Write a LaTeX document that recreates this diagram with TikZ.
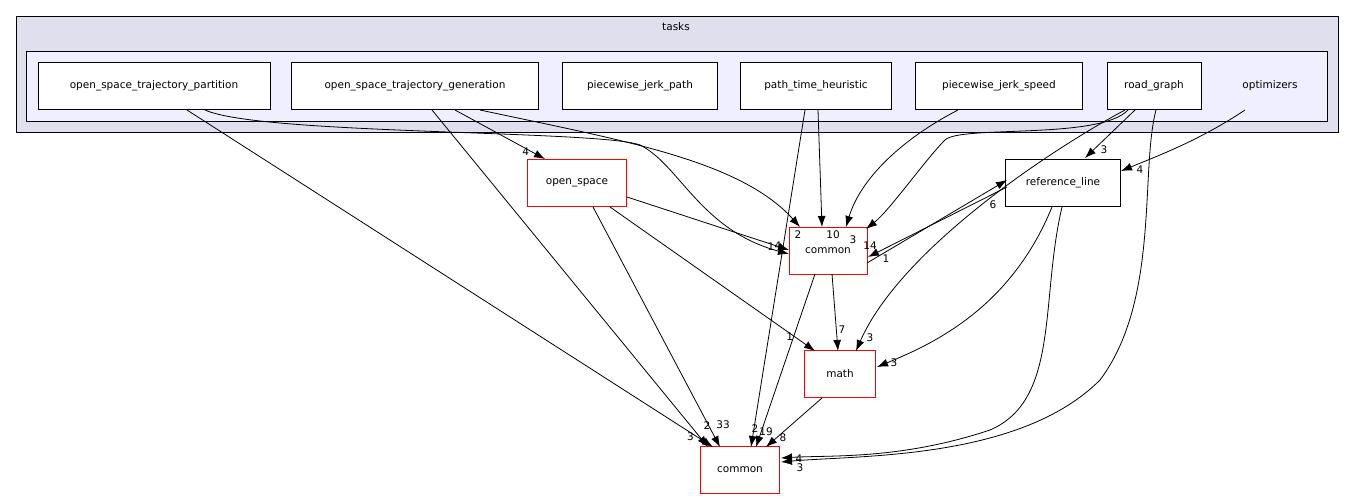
\documentclass[tikz,border=0pt]{standalone}
\usepackage{fontspec}
\setmainfont{DejaVu Sans}
\usetikzlibrary{arrows.meta,positioning}
\definecolor{cl1}{HTML}{DFDFEE}
\definecolor{cl2}{HTML}{EFEFFF}
\begin{document}
\begin{tikzpicture}[x=1pt,y=-1pt,font=\fontsize{10.5}{12}\selectfont,
 box/.style={draw=black,fill=white,minimum height=47pt,inner sep=0pt},
 rbox/.style={draw=red,fill=white,minimum height=47pt,inner sep=0pt},
 e/.style={-{Latex[length=11pt,width=8pt]},line width=0.8pt},
 lb/.style={inner sep=0pt}]
\useasboundingbox (0,0) rectangle (1355,500);
\draw[fill=cl1] (16,16) rectangle (1338,132);
\node[lb] (tasks) at (676,27) {tasks};
\draw[fill=cl2] (26,51) rectangle (1327,121);
\node[lb] (opt) at (1270,86) {optimizers};
\node[box,minimum width=232pt] (part) at (154,86) {open\_space\_trajectory\_partition};
\node[box,minimum width=247pt] (gen) at (415,86) {open\_space\_trajectory\_generation};
\node[box,minimum width=155pt] (pjp) at (640,86) {piecewise\_jerk\_path};
\node[box,minimum width=151pt] (pth) at (816,86) {path\_time\_heuristic};
\node[box,minimum width=167pt] (pjs) at (999,86) {piecewise\_jerk\_speed};
\node[box,minimum width=94pt] (rg) at (1154,86) {road\_graph};
\node[rbox,minimum width=99pt] (os) at (577,183) {open\_space};
\node[box,minimum width=115pt] (rl) at (1063,183) {reference\_line};
\node[rbox,minimum width=78pt] (cm) at (828,251) {common};
\node[rbox,minimum width=71pt] (ma) at (840,374) {math};
\node[rbox,minimum width=79pt] (cb) at (740,470) {common};
% edges
\draw[e] (187,110) -- (713,447) node[lb,pos=0.97,left=3pt] {3};
\draw[e] (205,110) .. controls (260,135) and (600,130) .. (640,145) .. controls (680,165) and (700,230) .. (789,254);
\node[lb] at (771,247) {1};
\draw[e] (432,110) -- (708,447);
\node[lb] at (707,426) {2};
\draw[e] (455,110) -- (545,159) node[lb,pos=0.85,left=2pt] {4};
\draw[e] (480,110) .. controls (620,140) and (740,160) .. (800,227);
\node[lb] at (798,235) {2};
\draw[e] (627,197) -- (789,250);
\node[lb] at (778,246) {4};
\draw[e] (593,207) -- (720,447);
\node[lb] at (723,425) {33};
\draw[e] (610,207) -- (815,351) node[lb,pos=0.9,left=1pt] {1};
\draw[e] (818,110) -- (822,227);
\node[lb] at (833,235) {10};
\draw[e] (805,110) -- (751,447);
\node[lb] at (755,429) {2};
\draw[e] (958,110) .. controls (900,140) and (860,180) .. (846,227);
\node[lb] at (853,240) {3};
\draw[e] (1128,110) .. controls (1100,140) and (960,125) .. (945,140) .. controls (925,160) and (890,210) .. (866,229);
\node[lb] at (870,246) {14};
\draw[e] (1135,110) -- (1085,158);
\node[lb] at (1104,150) {3};
\draw[e] (1125,110) .. controls (1050,150) and (900,250) .. (856,351);
\node[lb] at (870,338) {3};
\draw[e] (1156,110) .. controls (1140,170) and (1160,300) .. (1100,380) .. controls (1020,460) and (860,455) .. (781,462);
\node[lb] at (800,468) {3};
\draw[e] (1245,110) .. controls (1200,140) and (1160,155) .. (1121,171);
\node[lb] at (1140,170) {4};
\draw[e] (867,263) -- (1007,180);
\node[lb] at (993,205) {6};
\draw[e] (1007,187) -- (868,257);
\node[lb] at (886,259) {1};
\draw[e] (1052,207) .. controls (1010,310) and (930,345) .. (877,367);
\node[lb] at (894,363) {3};
\draw[e] (1062,207) .. controls (1040,300) and (1060,400) .. (990,430) .. controls (900,460) and (830,455) .. (781,458);
\node[lb] at (799,459) {4};
\draw[e] (832,274) -- (838,351);
\node[lb] at (842,330) {7};
\draw[e] (815,274) -- (756,447);
\node[lb] at (766,432) {19};
\draw[e] (822,398) -- (766,447);
\node[lb] at (783,438) {8};
\end{tikzpicture}
\end{document}
